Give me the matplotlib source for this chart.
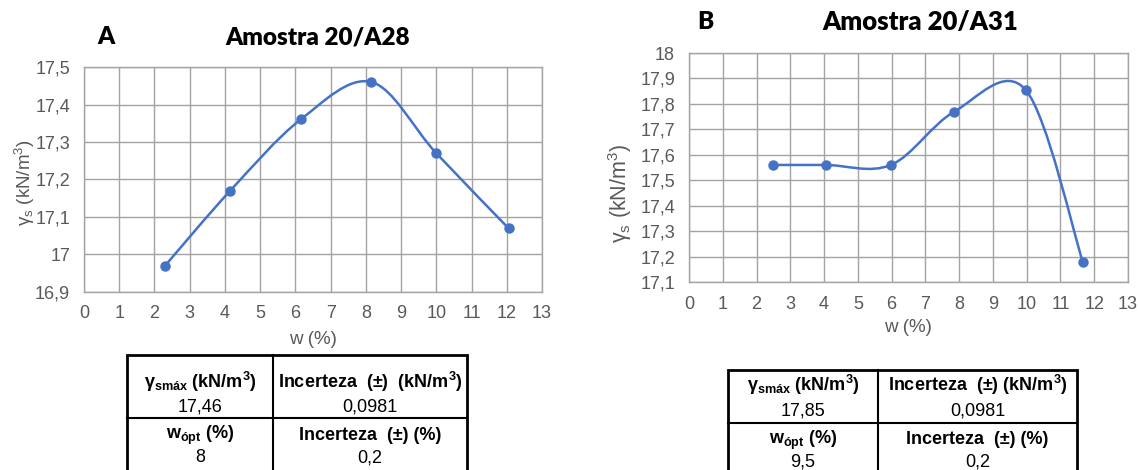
import numpy as np
import matplotlib
matplotlib.use("Agg")
import matplotlib.pyplot as plt
from matplotlib.path import Path
from matplotlib.patches import PathPatch, Rectangle

plt.rcParams['font.family'] = ['Liberation Sans', 'DejaVu Sans']
plt.rcParams['font.sans-serif'] = ['Liberation Sans']
plt.rcParams['mathtext.fontset'] = 'custom'
plt.rcParams['mathtext.rm'] = 'Liberation Sans'
plt.rcParams['mathtext.it'] = 'Liberation Sans:italic'
plt.rcParams['mathtext.bf'] = 'Liberation Sans:bold'

# Sample 20/A28 compaction points
w_a28 = [2.3, 4.15, 6.15, 8.15, 10.0, 12.05]
gamma_a28 = [16.97, 17.17, 17.36, 17.46, 17.27, 17.07]

# Sample 20/A31 compaction points
w_a31 = [2.48, 4.06, 5.98, 7.86, 9.97, 11.66]
gamma_a31 = [17.56, 17.56, 17.56, 17.77, 17.855, 17.18]

x_ticks = list(range(0, 14))
y_ticks_a28 = [16.9, 17.0, 17.1, 17.2, 17.3, 17.4, 17.5]
y_ticks_a31 = [17.1, 17.2, 17.3, 17.4, 17.5, 17.6, 17.7, 17.8, 17.9, 18.0]

table_a28 = [["γsmáx", "17,46", "Incerteza  (±)  (kN/m3)", "0,0981"],
             ["wópt", "8", "Incerteza  (±) (%)", "0,2"]]
table_a31 = [["γsmáx", "17,85", "Incerteza  (±) (kN/m3)", "0,0981"],
             ["wópt", "9,5", "Incerteza  (±) (%)", "0,2"]]

W, H = 1138, 470
BLUE = '#4472C4'
GRID = '#a3a3a3'
TICK = '#595959'

fig = plt.figure(figsize=(W / 100, H / 100), dpi=100)


def px(x, y):
    return x / W, 1 - y / H


def axes_px(left, top, right, bottom):
    return fig.add_axes([left / W, 1 - bottom / H, (right - left) / W, (bottom - top) / H])


def smooth_path(xs, ys):
    # Catmull-Rom style cubic Bezier through every point
    pts = np.column_stack([xs, ys]).astype(float)
    ext = np.vstack([pts[0], pts, pts[-1]])
    verts = [tuple(pts[0])]
    codes = [Path.MOVETO]
    for i in range(1, len(ext) - 2):
        p0, p1, p2, p3 = ext[i - 1], ext[i], ext[i + 1], ext[i + 2]
        c1 = p1 + (p2 - p0) / 6.0
        c2 = p2 - (p3 - p1) / 6.0
        verts += [tuple(c1), tuple(c2), tuple(p2)]
        codes += [Path.CURVE4] * 3
    return Path(verts, codes)


def fmt(v):
    s = f"{v:.1f}".replace('.', ',')
    return s[:-2] if s.endswith(',0') else s


def draw_chart(ax, xs, ys, yticks, xpad, ypad):
    ax.set_xlim(0, 13)
    ax.set_ylim(yticks[0], yticks[-1])
    ax.set_xticks(x_ticks)
    ax.set_yticks(yticks)
    ax.set_xticklabels([str(t) for t in x_ticks], family='Liberation Sans')
    ax.set_yticklabels([fmt(t) for t in yticks], family='Liberation Sans')
    ax.grid(True, color=GRID, linewidth=1.0)
    ax.set_axisbelow(True)
    for sp in ax.spines.values():
        sp.set_color(GRID)
        sp.set_linewidth(1.0)
    ax.tick_params(length=0, labelsize=13, labelcolor=TICK)
    ax.tick_params(axis='x', pad=xpad)
    ax.tick_params(axis='y', pad=ypad)
    ax.add_patch(PathPatch(smooth_path(xs, ys), fill=False, edgecolor=BLUE,
                           linewidth=1.8, capstyle='round', zorder=3))
    ax.plot(xs, ys, 'o', color=BLUE, markersize=6.5, zorder=4, linestyle='none')


ax_a = axes_px(84, 67, 542, 292)
draw_chart(ax_a, w_a28, gamma_a28, y_ticks_a28, 9.5, 10)
ax_b = axes_px(689, 53, 1128, 282)
draw_chart(ax_b, w_a31, gamma_a31, y_ticks_a31, 10, 10)

# Panel letters and titles
title_kw = dict(family=['Lato', 'DejaVu Sans'], weight='heavy', color='black',
                ha='center', va='center')
fig.text(*px(106, 37), 'A', fontsize=17.5, **title_kw)
fig.text(*px(318, 37), 'Amostra 20/A28', fontsize=17.5, **title_kw)
fig.text(*px(705, 22), 'B', fontsize=17.5, **title_kw)
fig.text(*px(920, 22), 'Amostra 20/A31', fontsize=18.5, **title_kw)

# Axis labels
ylab = r'$\mathrm{γ}_{\mathrm{s}}$ (kN/m$^{3}$)'
fig.text(*px(25, 183), ylab, rotation=90, fontsize=13.5, color=TICK, ha='center', va='center')
fig.text(*px(620, 193), ylab, rotation=90, fontsize=15.5, color=TICK, ha='center', va='center')
fig.text(*px(313, 339), 'w (%)', fontsize=13.5, color=TICK, ha='center', va='center')
fig.text(*px(908, 328), 'w (%)', fontsize=13.5, color=TICK, ha='center', va='center')


def header(label, kind):
    if kind == 0:
        return r'$\mathbf{' + label[0] + r'}_{\mathbf{' + label[1:] + r'}}$ (kN/m$^{\mathbf{3}}$)'
    return r'$\mathbf{' + label[0] + r'}_{\mathbf{' + label[1:] + r'}}$ (%)'


def unit_text(s):
    return s.replace('m3)', r'm$^{\mathbf{3}}$)')


def draw_table(rows, left, right, col, top, mid, ys):
    tr = fig.transFigure
    x0, y0 = px(left, top)
    x1, _ = px(right, top)
    _, ym = px(left, mid)
    ybot = -0.05
    # outer frame, inner divider lines
    fig.add_artist(Rectangle((x0, ybot), x1 - x0, y0 - ybot, transform=tr,
                             fill=False, edgecolor='black', linewidth=2.0))
    xc, _ = px(col, top)
    fig.add_artist(plt.Line2D([xc, xc], [ybot, y0], transform=tr, color='black', linewidth=1.5))
    fig.add_artist(plt.Line2D([x0, x1], [ym, ym], transform=tr, color='black', linewidth=1.5))
    cl = (left + col) / 2
    cr = (col + right) / 2
    for r, row in enumerate(rows):
        hy, vy = ys[2 * r], ys[2 * r + 1]
        fig.text(*px(cl, hy), header(row[0], r), fontsize=13, weight='bold',
                 family='Liberation Sans', ha='center', va='center')
        fig.text(*px(cl, vy), row[1], fontsize=13, family='Liberation Sans',
                 ha='center', va='center')
        fig.text(*px(cr, hy), unit_text(row[2]), fontsize=13, weight='bold',
                 family='Liberation Sans', ha='center', va='center')
        fig.text(*px(cr, vy), row[3], fontsize=13, family='Liberation Sans',
                 ha='center', va='center')


draw_table(table_a28, 127, 467, 273, 355, 418, [382, 407, 435, 458])
draw_table(table_a31, 728, 1077, 878, 370, 423, [385, 411, 440, 462])

fig.savefig('out.png', dpi=100, facecolor='white')
